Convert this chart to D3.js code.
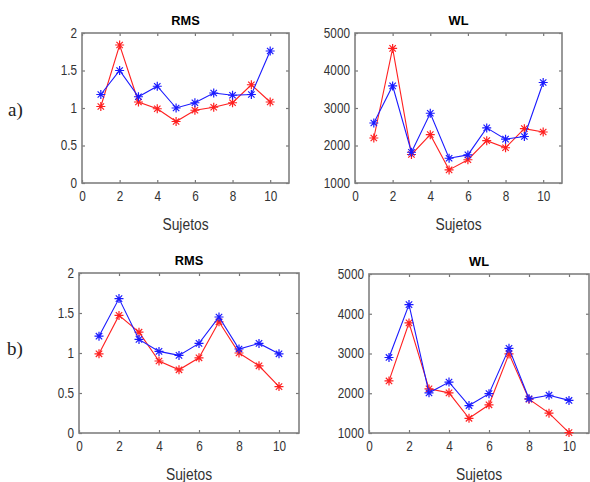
<!DOCTYPE html>
<html>
<head>
<meta charset="utf-8">
<script src="https://cdn.jsdelivr.net/npm/d3@7"></script>
<style>
  body { margin: 0; background: #fff; }
  svg { display: block; }
</style>
</head>
<body>
<svg id="viz" width="590" height="482"></svg>
<script>
// Data

var sujetos = [1, 2, 3, 4, 5, 6, 7, 8, 9, 10];

var xTicks = [0, 2, 4, 6, 8, 10];
var rmsTicks = [0, 0.5, 1, 1.5, 2];
var wlTicks = [1000, 2000, 3000, 4000, 5000];

var rmsA_blue = [1.18, 1.50, 1.15, 1.29, 1.00, 1.07, 1.20, 1.17, 1.18, 1.76];
var rmsA_red  = [1.02, 1.84, 1.08, 0.99, 0.82, 0.97, 1.01, 1.07, 1.31, 1.08];

var wlA_blue = [2600, 3590, 1820, 2860, 1660, 1750, 2470, 2170, 2240, 3680];
var wlA_red  = [2200, 4590, 1760, 2290, 1350, 1620, 2130, 1940, 2450, 2360];

var rmsB_blue = [1.21, 1.68, 1.17, 1.02, 0.97, 1.12, 1.45, 1.05, 1.12, 0.99];
var rmsB_red  = [0.99, 1.47, 1.26, 0.90, 0.79, 0.94, 1.39, 1.00, 0.84, 0.58];

var wlB_blue = [2900, 4230, 2010, 2280, 1690, 1990, 3130, 1860, 1950, 1820];
var wlB_red  = [2310, 3770, 2110, 2010, 1370, 1710, 2990, 1850, 1500, 1010];

var svg = d3.select("#viz");

svg.append("rect").attr("width", 590).attr("height", 482).attr("fill", "#fff");

// Panel boxes (left, top, right, bottom)

var panels = [
	{ title: "RMS", l: 82, t: 33, r: 289, b: 183, y: [0, 2], ticks: rmsTicks, fmt: d3.format("~g"), blue: rmsA_blue, red: rmsA_red },
	{ title: "WL", l: 355, t: 33, r: 562, b: 183, y: [1000, 5000], ticks: wlTicks, fmt: d3.format("d"), blue: wlA_blue, red: wlA_red },
	{ title: "RMS", l: 79, t: 273, r: 299, b: 433, y: [0, 2], ticks: rmsTicks, fmt: d3.format("~g"), blue: rmsB_blue, red: rmsB_red },
	{ title: "WL", l: 369, t: 274, r: 589, b: 433, y: [1000, 5000], ticks: wlTicks, fmt: d3.format("d"), blue: wlB_blue, red: wlB_red }
];

var tickFont = "'Liberation Sans', Arial, sans-serif";
var squeeze = 0.84;  // the figure's text looks horizontally condensed

panels.forEach(drawPanel);

// a) / b) labels
svg.append("text").attr("x", 8).attr("y", 116)
	.style("font-family", "'Liberation Serif', 'Times New Roman', serif")
	.style("font-size", "19px").attr("fill", "#222").text("a)");
svg.append("text").attr("x", 7).attr("y", 355)
	.style("font-family", "'Liberation Serif', 'Times New Roman', serif")
	.style("font-size", "19px").attr("fill", "#222").text("b)");

function drawPanel(p) {
	var x = d3.scaleLinear().domain([0, 11]).range([p.l, p.r]);
	var y = d3.scaleLinear().domain(p.y).range([p.b, p.t]);
	var g = svg.append("g");

	// bottom axis with inward ticks
	var xAxis = g.append("g").attr("transform", "translate(0," + p.b + ")")
		.call(d3.axisBottom(x).tickValues(xTicks).tickSizeInner(-3).tickSizeOuter(0).tickPadding(8));
	var yAxis = g.append("g").attr("transform", "translate(" + p.l + ",0)")
		.call(d3.axisLeft(y).tickValues(p.ticks).tickFormat(p.fmt).tickSizeInner(-3).tickSizeOuter(0).tickPadding(6));
	var xTop = g.append("g").attr("transform", "translate(0," + p.t + ")")
		.call(d3.axisTop(x).tickValues(xTicks).tickSizeInner(-3).tickSizeOuter(0).tickFormat(""));
	var yRight = g.append("g").attr("transform", "translate(" + p.r + ",0)")
		.call(d3.axisRight(y).tickValues(p.ticks).tickSizeInner(-3).tickSizeOuter(0).tickFormat(""));

	[xAxis, yAxis, xTop, yRight].forEach(function(a) {
		a.select(".domain").remove();
		a.selectAll(".tick line").attr("stroke", "#777").attr("stroke-width", 1.2);
		a.selectAll("text").attr("fill", "#333")
			.style("font-family", tickFont).style("font-size", "14px")
			.attr("transform", "scale(" + squeeze + ",1)");
	});

	g.append("rect")
		.attr("x", p.l).attr("y", p.t)
		.attr("width", p.r - p.l).attr("height", p.b - p.t)
		.attr("fill", "none").attr("stroke", "#808080").attr("stroke-width", 1.6);

	// title
	g.append("text")
		.attr("transform", "translate(" + (p.l + p.r) / 2 + "," + (p.t - 8) + ") scale(0.95,1)")
		.attr("text-anchor", "middle")
		.style("font-family", "'Liberation Sans', Arial, sans-serif")
		.style("font-size", "13.5px").style("font-weight", "bold")
		.attr("fill", "#000").text(p.title);

	// x label
	g.append("text")
		.attr("transform", "translate(" + (p.l + p.r) / 2 + "," + (p.b + 47) + ") scale(" + squeeze + ",1)")
		.attr("text-anchor", "middle")
		.style("font-family", tickFont).style("font-size", "16.5px")
		.attr("fill", "#333").text("Sujetos");

	var line = d3.line()
		.x(function(d, i) { return x(sujetos[i]); })
		.y(function(d) { return y(d); });

	[["#ff2020", p.red], ["#1a1aff", p.blue]].forEach(function(s) {
		g.append("path").datum(s[1])
			.attr("d", line)
			.attr("fill", "none").attr("stroke", s[0]).attr("stroke-width", 1.1);

		g.selectAll(null).data(s[1]).enter().append("path")
			.attr("transform", function(d, i) { return "translate(" + x(sujetos[i]) + "," + y(d) + ")"; })
			.attr("d", "M-4.5,0H4.5M0,-4.5V4.5M-3.2,-3.2L3.2,3.2M-3.2,3.2L3.2,-3.2")
			.attr("fill", "none").attr("stroke", s[0]).attr("stroke-width", 1.2);
	});
}
</script>
</body>
</html>
